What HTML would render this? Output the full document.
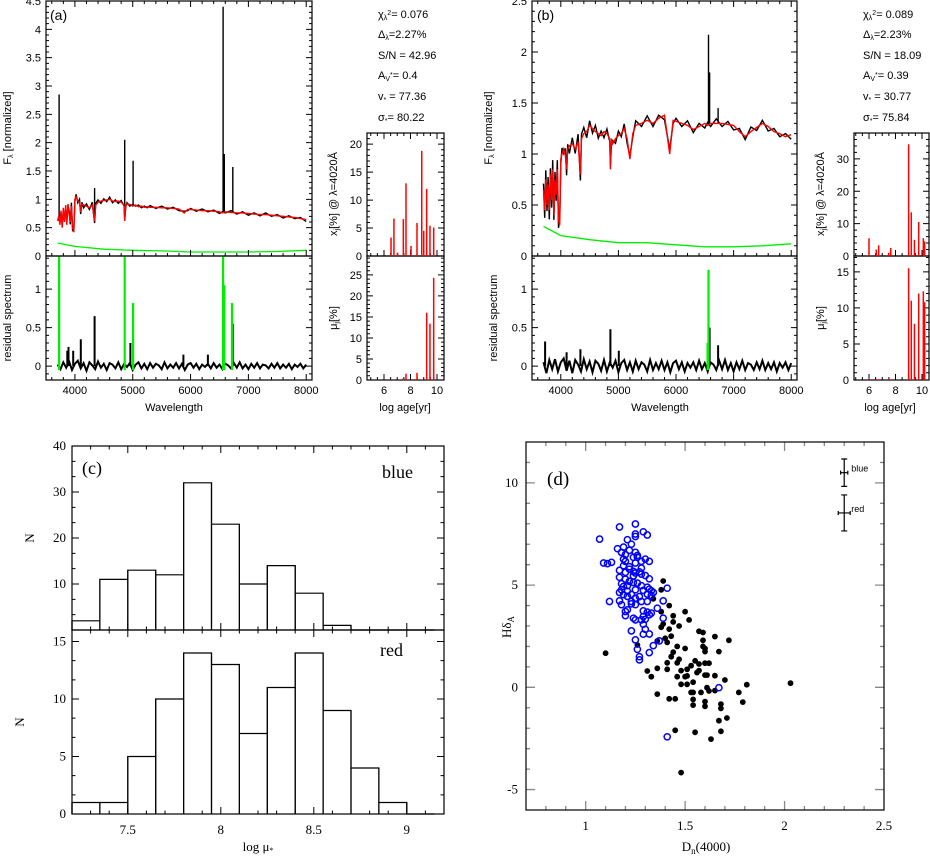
<!DOCTYPE html>
<html><head><meta charset="utf-8"><style>
html,body{margin:0;padding:0;background:#fff;}
svg{display:block;}
.s{font-family:"Liberation Sans",sans-serif;font-size:11px;fill:#000;}
.r{font-family:"Liberation Serif",serif;font-size:13px;fill:#000;}
</style></head><body>
<svg id="fig" width="930" height="857" viewBox="0 0 930 857" xmlns="http://www.w3.org/2000/svg">
<defs>
<clipPath id="cA1"><rect x="46" y="1" width="266" height="255"/></clipPath>
<clipPath id="cA2"><rect x="46" y="256" width="266" height="124"/></clipPath>
<clipPath id="cB1"><rect x="532" y="1" width="265" height="255"/></clipPath>
<clipPath id="cB2"><rect x="532" y="256" width="265" height="124"/></clipPath>
</defs>
<g id="root"></g>
<text class="s" x="50" y="20" style="font-size:14px">(a)</text>
<text class="s" x="537" y="20" style="font-size:14px">(b)</text>
<text class="s" transform="translate(11,128) rotate(-90)" text-anchor="middle">F<tspan style="font-size:7px" dy="2">λ</tspan><tspan dy="-2"> [normalized]</tspan></text>
<text class="s" transform="translate(11,318) rotate(-90)" text-anchor="middle">residual  spectrum</text>
<text class="s" x="174" y="411" text-anchor="middle">Wavelength</text>
<text class="s" transform="translate(337,194) rotate(-90)" text-anchor="middle">x<tspan style="font-size:7px" dy="2">j</tspan><tspan dy="-2">[%]  @  λ=4020Å</tspan></text>
<text class="s" transform="translate(337,318) rotate(-90)" text-anchor="middle">μ<tspan style="font-size:7px" dy="2">j</tspan><tspan dy="-2">[%]</tspan></text>
<text class="s" x="405" y="411" text-anchor="middle">log age[yr]</text>
<text class="s" transform="translate(492,128) rotate(-90)" text-anchor="middle">F<tspan style="font-size:7px" dy="2">λ</tspan><tspan dy="-2"> [normalized]</tspan></text>
<text class="s" transform="translate(497,318) rotate(-90)" text-anchor="middle">residual  spectrum</text>
<text class="s" x="660" y="411" text-anchor="middle">Wavelength</text>
<text class="s" transform="translate(824,194) rotate(-90)" text-anchor="middle">x<tspan style="font-size:7px" dy="2">j</tspan><tspan dy="-2">[%]  @  λ=4020Å</tspan></text>
<text class="s" transform="translate(824,318) rotate(-90)" text-anchor="middle">μ<tspan style="font-size:7px" dy="2">j</tspan><tspan dy="-2">[%]</tspan></text>
<text class="s" x="890" y="411" text-anchor="middle">log age[yr]</text>
<g class="s">
<text x="378" y="18">χ<tspan style="font-size:7px" dy="2">λ</tspan><tspan style="font-size:7px" dy="-5">2</tspan><tspan dy="3">=  0.076</tspan></text>
<text x="378" y="38">Δ<tspan style="font-size:7px" dy="2">λ</tspan><tspan dy="-2">=2.27%</tspan></text>
<text x="378" y="59">S/N = 42.96</text>
<text x="378" y="79">A<tspan style="font-size:7px" dy="2">V</tspan><tspan style="font-size:7px" dy="-4">*</tspan><tspan dy="2">=  0.4</tspan></text>
<text x="378" y="100">v<tspan style="font-size:7px" dy="2">*</tspan><tspan dy="-2">  =  77.36</tspan></text>
<text x="378" y="121">σ<tspan style="font-size:7px" dy="2">*</tspan><tspan dy="-2">=  80.22</tspan></text>
</g>
<g class="s">
<text x="863" y="18">χ<tspan style="font-size:7px" dy="2">λ</tspan><tspan style="font-size:7px" dy="-5">2</tspan><tspan dy="3">=  0.089</tspan></text>
<text x="863" y="38">Δ<tspan style="font-size:7px" dy="2">λ</tspan><tspan dy="-2">=2.23%</tspan></text>
<text x="863" y="59">S/N = 18.09</text>
<text x="863" y="79">A<tspan style="font-size:7px" dy="2">V</tspan><tspan style="font-size:7px" dy="-4">*</tspan><tspan dy="2">=  0.39</tspan></text>
<text x="863" y="100">v<tspan style="font-size:7px" dy="2">*</tspan><tspan dy="-2">  =  30.77</tspan></text>
<text x="863" y="121">σ<tspan style="font-size:7px" dy="2">*</tspan><tspan dy="-2">=  75.84</tspan></text>
</g>
<text class="r" x="82" y="474" style="font-size:18px">(c)</text>
<text class="r" x="413" y="478" style="font-size:18px" text-anchor="end">blue</text>
<text class="r" x="403" y="656" style="font-size:18px" text-anchor="end">red</text>
<text class="r" x="34" y="538" text-anchor="middle" transform="rotate(-90 34 538)">N</text>
<text class="r" x="24" y="722" text-anchor="middle" transform="rotate(-90 24 722)">N</text>
<text class="r" x="258" y="851" text-anchor="middle">log  μ<tspan style="font-size:8px" dy="2">*</tspan></text>
<text class="r" x="547" y="485" style="font-size:19px">(d)</text>
<text class="r" transform="translate(511,627) rotate(-90)" text-anchor="middle">Hδ<tspan style="font-size:9px" dy="3">A</tspan></text>
<text class="r" x="706" y="851" text-anchor="middle">D<tspan style="font-size:9px" dy="3">n</tspan><tspan dy="-3">(4000)</tspan></text>
</svg>
<script>
// ---------- data ----------
const specWl = [3700,3720,3740,3760,3780,3800,3820,3840,3860,3880,3900,3920,3940,3960,3980,4000,4020,4050,4080,4100,4120,4150,4200,4250,4300,4340,4360,4400,4450,4500,4550,4600,4650,4700,4750,4800,4850,4861,4880,4900,4950,5000,5050,5100,5150,5200,5250,5300,5400,5500,5600,5700,5800,5890,5950,6000,6100,6200,6300,6400,6500,6550,6600,6700,6800,6900,7000,7100,7200,7300,7400,7500,7600,7700,7800,7900,8000];
const fluxA = [0.62,0.7,0.55,0.8,0.5,0.85,0.6,0.9,0.55,0.92,0.75,0.6,0.88,0.5,0.42,1.0,1.05,0.97,0.95,0.78,0.92,0.9,0.88,0.85,0.9,0.62,0.9,0.95,0.97,0.98,0.99,1.0,0.97,0.96,0.97,0.95,0.9,0.62,0.9,0.92,0.91,0.88,0.9,0.87,0.88,0.86,0.87,0.86,0.86,0.85,0.85,0.84,0.83,0.76,0.82,0.82,0.81,0.8,0.8,0.79,0.78,0.76,0.78,0.77,0.76,0.76,0.75,0.74,0.73,0.73,0.72,0.71,0.7,0.69,0.68,0.66,0.64];
const fluxB = [0.65,0.45,0.75,0.5,0.7,0.45,0.8,0.55,0.85,0.4,0.75,0.6,0.85,0.35,0.3,0.95,1.0,1.05,0.98,0.85,1.05,1.08,1.1,1.05,1.12,0.8,1.15,1.2,1.22,1.28,1.25,1.22,1.2,1.18,1.22,1.2,1.15,0.85,1.15,1.1,1.15,1.18,1.2,1.25,1.15,0.95,1.2,1.28,1.3,1.33,1.3,1.35,1.38,1.0,1.33,1.32,1.3,1.28,1.24,1.27,1.3,1.28,1.3,1.3,1.3,1.29,1.28,1.22,1.17,1.22,1.26,1.3,1.27,1.22,1.2,1.17,1.19];
const jit = [0.04,-0.05,0.06,-0.04,0.05,-0.06,0.04,-0.05,0.06,-0.03,0.05,-0.04,0.06,-0.05,0.04,-0.03,0.04,-0.03,0.05,-0.04,0.03,-0.05,0.04,-0.03,0.05,-0.04,0.03,0.04,-0.04,0.03,-0.03,0.04,-0.03,0.03,-0.04,0.03,-0.02,0.03,-0.03,0.02,-0.03,0.03,-0.02,0.03,-0.03,0.02,-0.02,0.03,-0.02,0.03,-0.02,0.02,-0.03,0.03,-0.02,0.02,-0.02,0.03,-0.02,0.02,-0.03,0.02,-0.02,0.03,-0.02,0.02,-0.03,0.02,-0.02,0.03,-0.02,0.02,-0.03,0.02,-0.02,0.02,-0.03];
const lineWlA = [3727,4340,4861,5007,6563,6583,6731];
const linePkA = [2.85,1.2,2.05,1.68,4.4,1.8,1.57];
const lineWlB = [6563,6583,6731];
const linePkB = [2.17,1.8,1.45];
const errWl = [3700,4000,4500,5000,5500,6000,6500,7000,7500,8000];
const errA = [0.23,0.17,0.12,0.1,0.09,0.07,0.07,0.07,0.08,0.1];
const errB = [0.29,0.2,0.16,0.13,0.13,0.11,0.09,0.09,0.1,0.12];
const resA = [0.02,-0.04,0.05,-0.02,0.06,-0.05,0.03,0.07,-0.03,0.04,-0.06,0.05,0.01,-0.04,0.06,-0.02,0.03,-0.05,0.04,0.02,-0.03,0.05,-0.04,0.03,-0.01,0.04,-0.05,0.02,0.05,-0.03,0.03,-0.04,0.04,-0.02,0.03,0.01,-0.04,0.05,-0.03,0.02,-0.02,0.04,-0.03,0.03,-0.05,0.02,0.04,-0.02,0.03,-0.04,0.02,-0.01,0.03,-0.03,0.04,-0.02,0.02,-0.04,0.03,0.01,-0.03,0.04,-0.02,0.05,-0.03,0.02,-0.04,0.03,-0.02,0.04,-0.03,0.02,0.01,-0.03,0.03,-0.02,0.04,-0.03,0.02,-0.02,0.03,-0.04,0.02,-0.01,0.03,-0.03,0.02];
const resB = [0.05,-0.09,0.08,-0.04,0.09,-0.07,0.05,0.1,-0.06,0.07,-0.09,0.08,0.02,-0.07,0.09,-0.04,0.06,-0.08,0.07,0.03,-0.06,0.08,-0.07,0.05,-0.02,0.07,-0.08,0.04,0.08,-0.05,0.05,-0.07,0.07,-0.04,0.05,0.02,-0.07,0.08,-0.05,0.04,-0.04,0.07,-0.05,0.05,-0.08,0.04,0.07,-0.04,0.05,-0.07,0.04,-0.02,0.05,-0.05,0.07,-0.04,0.04,-0.07,0.05,0.02,-0.05,0.07,-0.04,0.08,-0.05,0.04,-0.07,0.05,-0.04,0.07,-0.05,0.04,0.02,-0.05,0.05,-0.04,0.07,-0.05,0.04,-0.04,0.05,-0.07,0.04,-0.02,0.05,-0.05,0.04];
const resLineWlA = [3869,3889,3970,4101,4340,4959,5876,6300,6731];
const resLinePkA = [0.2,0.25,0.2,0.35,0.65,0.3,0.15,0.15,0.55];
const resGreenWlA = [3727,4861,5007,6563,6583,6717];
const resGreenPkA = [1.45,1.45,0.82,1.45,1.05,0.82];
const resLineWlB = [3727,4101,4340,4861,5007,6583,6731];
const resLinePkB = [0.32,0.18,0.22,0.48,0.2,0.5,0.27];
const resGreenWlB = [6548,6563];
const resGreenPkB = [0.3,1.25];
const ageA = [6.53,6.75,7.03,7.46,7.66,8.04,8.49,8.85,9.0,9.22,9.47,9.75];
const xjA = [3.3,6.7,0.6,6.6,13,1.8,5.9,18.8,4.5,12,5.4,5.1];
const muA = [0.05,0.05,0.05,0.4,1.5,0.05,1.7,0.05,0.05,16,13.4,24.3];
const ageB = [6.0,6.55,6.73,7.48,7.64,8.99,9.19,9.43,9.75,10.1,10.2];
const xjB = [5.5,2,3.3,1,2.5,34.5,13.5,5,10.5,5.5,4.5];
const muB = [0.1,0.1,0.1,0.1,0.1,15.5,11,7.8,12,12.3,10.8];
const binEdges = [7.2,7.35,7.5,7.65,7.8,7.95,8.1,8.25,8.4,8.55,8.7,8.85,9.0,9.15];
const blueCounts = [2,11,13,12,32,23,10,14,8,1,0,0,0];
const redCounts = [1,1,5,10,14,13,7,11,14,9,4,1,0];
const blackD = [1.10,1.39,1.38,1.34,1.42,1.38,1.44,1.50,1.52,1.44,1.39,1.38,1.47,1.42,1.43,1.40,1.57,1.59,1.65,1.59,1.72,1.36,1.41,1.46,1.50,1.59,1.60,1.60,1.67,1.44,1.43,1.47,1.46,1.55,1.57,1.60,1.62,1.41,1.53,1.51,1.41,1.36,1.48,1.57,1.56,1.31,1.33,1.46,1.51,1.50,1.60,1.65,1.61,1.70,1.54,1.48,1.51,1.81,2.03,1.61,1.62,1.65,1.58,1.53,1.54,1.77,1.36,1.42,1.45,1.54,1.60,1.79,1.68,1.54,1.60,1.68,1.71,1.67,1.45,1.55,1.68,1.63,1.48,1.26];
const blackH = [1.67,5.2,4.77,4.33,4.0,3.7,3.5,3.7,3.3,3.2,3.1,2.94,3.0,2.85,2.5,2.4,2.74,2.68,2.48,2.3,2.3,2.27,2.2,2.0,1.9,2.0,1.9,1.75,1.75,1.72,1.5,1.37,1.2,1.3,1.14,1.18,1.18,1.2,1.06,0.88,0.88,0.93,0.82,0.82,0.72,0.8,0.52,0.52,0.56,0.52,0.6,0.57,0.6,0.36,0.25,0.15,0.15,0.13,0.2,-0.02,-0.18,-0.16,-0.25,-0.25,-0.25,-0.25,-0.33,-0.56,-0.56,-0.59,-0.7,-0.72,-0.82,-0.87,-0.93,-1.03,-1.5,-1.63,-2.1,-2.2,-2.15,-2.53,-4.17,2.07];
const blueD = [1.07,1.17,1.25,1.29,1.31,1.25,1.25,1.21,1.23,1.19,1.16,1.22,1.25,1.18,1.20,1.24,1.26,1.30,1.32,1.28,1.19,1.20,1.09,1.11,1.13,1.25,1.17,1.28,1.22,1.24,1.20,1.25,1.28,1.17,1.30,1.32,1.20,1.22,1.18,1.26,1.24,1.21,1.19,1.28,1.31,1.41,1.32,1.18,1.21,1.25,1.29,1.33,1.17,1.34,1.19,1.23,1.31,1.33,1.27,1.25,1.12,1.17,1.28,1.31,1.39,1.23,1.18,1.25,1.36,1.21,1.20,1.29,1.31,1.33,1.32,1.20,1.29,1.39,1.24,1.25,1.28,1.30,1.29,1.30,1.23,1.32,1.29,1.37,1.25,1.34,1.26,1.27,1.27,1.32,1.67,1.41,1.22,1.27,1.24,1.21,1.26,1.19,1.23];
const blueH = [7.25,7.84,7.99,7.61,7.45,7.5,7.38,7.22,7.0,6.86,6.78,6.7,6.6,6.6,6.49,6.36,6.36,6.27,6.16,6.16,6.27,6.16,6.08,6.05,6.11,6.08,5.72,5.83,5.78,5.67,5.62,5.59,5.54,5.38,5.47,5.31,5.29,5.18,5.07,5.1,5.13,4.97,4.93,4.97,4.9,4.85,4.8,4.77,4.7,4.77,4.74,4.72,4.64,4.64,4.53,4.54,4.56,4.49,4.44,4.36,4.2,4.23,4.2,4.2,4.23,4.08,4.04,4.04,3.87,3.79,3.71,3.74,3.68,3.63,3.55,3.51,3.46,3.38,3.38,3.3,3.3,3.33,3.09,2.84,2.76,2.61,2.6,2.27,2.32,2.04,1.86,1.5,1.34,1.7,-0.02,-2.42,5.9,5.65,5.45,4.45,6.45,5.95,4.2];
const errBarX = [2.30,2.30];
const errBarY = [10.5,8.53];
const errBarDx = [0.018,0.03];
const errBarDy = [0.67,0.88];
const errBarLabels = ['blue','red'];

// ---------- helpers ----------
const NS='http://www.w3.org/2000/svg';
const root=document.getElementById('root');
function mk(tag,at,parent){const e=document.createElementNS(NS,tag);for(const k in at)e.setAttribute(k,at[k]);(parent||root).appendChild(e);return e;}
function lin(d0,d1,p0,p1){return v=>p0+(v-d0)/(d1-d0)*(p1-p0);}
function fmt(v){return String(+v.toFixed(3));}
function ticks(x0,y0,x1,y1,xs,ys,xd,yd,xmaj,xmin,ymaj,ymin,o){
  const g=mk('g',{});
  
  
  let d='';
  const eps=1e-6;
  if(xmin){for(let v=Math.ceil(xd[0]/xmin-eps)*xmin;v<=xd[1]+eps;v+=xmin){const X=xs(v);if(X<x0+0.5||X>x1-0.5)continue;const maj=Math.abs(v/xmaj-Math.round(v/xmaj))<1e-4;const L=maj?o.maj:o.min;
    if(o.bot!==false)d+=`M${X},${y1}v${-L}`; if(o.top!==false)d+=`M${X},${y0}v${L}`;}}
  if(ymin){for(let v=Math.ceil(yd[0]/ymin-eps)*ymin;v<=yd[1]+eps;v+=ymin){const Y=ys(v);if(Y<y0+0.5||Y>y1-0.5)continue;const maj=Math.abs(v/ymaj-Math.round(v/ymaj))<1e-4;const L=maj?o.maj:o.min;
    d+=`M${x0},${Y}h${L}M${x1},${Y}h${-L}`;}}
  mk('path',{d:d,stroke:o.tc||'#000','stroke-width':o.tw||1,fill:'none'},g);
  mk('rect',{x:x0,y:y0,width:x1-x0,height:y1-y0,fill:'none',stroke:'#000','stroke-width':1.2},g);
  if(o.xl){for(const v of o.xl){const t=mk('text',{x:xs(v),y:y1+o.xo,'text-anchor':'middle',class:o.cls},g);t.textContent=fmt(v);}}
  if(o.yl){for(const v of o.yl){const t=mk('text',{x:x0-o.yo,y:ys(v)+4,'text-anchor':'end',class:o.cls},g);t.textContent=fmt(v);}}
  return g;
}
function interp(xa,ya,x){for(let i=1;i<xa.length;i++){if(x<=xa[i]){const f=(x-xa[i-1])/(xa[i]-xa[i-1]);return ya[i-1]+f*(ya[i]-ya[i-1]);}}return ya[ya.length-1];}

function spectrumPanel(P){
  const xs=lin(3500,8100,P.x0,P.x1);
  const ys=lin(0,P.ymax,256,1);
  const yr=lin(-0.18,1.43,380,256);
  const g1=mk('g',{'clip-path':`url(#${P.c1})`});
  
  
  let d='';
  specWl.forEach((w,i)=>{d+=(i?'L':'M')+xs(w).toFixed(1)+','+ys(P.flux[i]+(jit[i]||0)*P.js).toFixed(1);});
  P.lw.forEach((w,i)=>{const b=interp(specWl,P.flux,w);d+=`M${xs(w).toFixed(1)},${ys(b).toFixed(1)}L${xs(w).toFixed(1)},${ys(P.lp[i]).toFixed(1)}`;});
  const obs=mk('path',{d:d,stroke:'#000','stroke-width':1.4,fill:'none'},g1);
  
  
  let dm='';specWl.forEach((w,i)=>{dm+=(i?'L':'M')+xs(w).toFixed(1)+','+ys(P.flux[i]).toFixed(1);});
  const mod=mk('path',{d:dm,stroke:'#ff0000','stroke-width':1.4,fill:'none'},g1);
  
  
  let de='';errWl.forEach((w,i)=>{de+=(i?'L':'M')+xs(w).toFixed(1)+','+ys(P.err[i]).toFixed(1);});
  const er=mk('path',{d:de,stroke:'#00ee00','stroke-width':1.3,fill:'none'},g1);
  
  
  const g2=mk('g',{'clip-path':`url(#${P.c2})`});
  
  
  let dr='';const n=P.res.length;
  P.res.forEach((r,i)=>{const w=3700+i*(4300/(n-1));dr+=(i?'L':'M')+xs(w).toFixed(1)+','+yr(r).toFixed(1);});
  P.rlw.forEach((w,i)=>{dr+=`M${xs(w).toFixed(1)},${yr(0)}L${xs(w).toFixed(1)},${yr(P.rlp[i]).toFixed(1)}`;});
  const rp=mk('path',{d:dr,stroke:'#000','stroke-width':2,fill:'none'},g2);
  
  
  let dg='';P.rgw.forEach((w,i)=>{dg+=`M${xs(w).toFixed(1)},${yr(-0.05)}L${xs(w).toFixed(1)},${yr(P.rgp[i]).toFixed(1)}`;});
  const gp=mk('path',{d:dg,stroke:'#00ee00','stroke-width':2.2,fill:'none'},g2);
  
  
  const o={maj:6,min:3,cls:'s',xo:0,yo:5};
  ticks(P.x0,1,P.x1,256,xs,ys,[3500,8100],[0,P.ymax],1000,200,0.5,0.1,Object.assign({},o,{name:P.id+'-flux-axes',bot:true,yl:P.ylab}));
  ticks(P.x0,256,P.x1,380,xs,yr,[3500,8100],[-0.18,1.43],1000,200,0.5,0.1,Object.assign({},o,{name:P.id+'-residual-axes',top:false,yl:[0,0.5,1],xl:[4000,5000,6000,7000,8000],xo:14}));
  const ax=lin(6,10,P.sx6,P.sx6+53);
  const yx=lin(0,P.xjmax,256,133), ym=lin(0,P.mumax,380,256);
  ticks(P.sx0,133,P.sx1,256,ax,yx,[4.5,10.6],[0,P.xjmax],2,0.5,P.xjmaj,P.xjmaj/5,Object.assign({},o,{name:P.id+'-xj-axes',yl:P.xjlab}));
  ticks(P.sx0,256,P.sx1,380,ax,ym,[4.5,10.6],[0,P.mumax],2,0.5,P.mumaj,P.mumaj/5,Object.assign({},o,{name:P.id+'-mu-axes',top:false,yl:P.mulab,xl:[6,8,10],xo:14}));
  P.age.forEach((a,i)=>{
    const b=mk('line',{x1:ax(a),x2:ax(a),y1:yx(0),y2:yx(P.xj[i]),stroke:'#ff0000','stroke-width':1.5});
    
    
    const m=mk('line',{x1:ax(a),x2:ax(a),y1:ym(0),y2:ym(P.mu[i]),stroke:'#ff0000','stroke-width':1.5});
    
    
  });
}
spectrumPanel({id:'panel-a',x0:46,x1:312,ymax:4.5,flux:fluxA,js:1,lw:lineWlA,lp:linePkA,err:errA,res:resA,rlw:resLineWlA,rlp:resLinePkA,rgw:resGreenWlA,rgp:resGreenPkA,c1:'cA1',c2:'cA2',
  ylab:[0,0.5,1,1.5,2,2.5,3,3.5,4,4.5],sx0:367,sx1:444,sx6:384,xjmax:22,xjmaj:5,xjlab:[0,5,10,15,20],mumax:29.5,mumaj:5,mulab:[0,5,10,15,20,25],age:ageA,xj:xjA,mu:muA});
spectrumPanel({id:'panel-b',x0:532,x1:797,ymax:2.5,flux:fluxB,js:1.5,lw:lineWlB,lp:linePkB,err:errB,res:resB,rlw:resLineWlB,rlp:resLinePkB,rgw:resGreenWlB,rgp:resGreenPkB,c1:'cB1',c2:'cB2',
  ylab:[0,0.5,1,1.5,2,2.5],sx0:854,sx1:929,sx6:869,xjmax:38,xjmaj:10,xjlab:[0,10,20,30],mumax:17.2,mumaj:5,mulab:[0,5,10,15],age:ageB,xj:xjB,mu:muB});

// ---------- panel c ----------
(function(){
  const xs=lin(7.2,9.2,72,444);
  const yb=lin(0,40,630,446), yr=lin(0,16,814,630);
  function hist(counts,ys,name){
    let d='M'+xs(binEdges[0])+','+ys(0);
    counts.forEach((c,i)=>{d+=`L${xs(binEdges[i]).toFixed(1)},${ys(c).toFixed(1)}L${xs(binEdges[i+1]).toFixed(1)},${ys(c).toFixed(1)}`;});
    const p=mk('path',{d:d,stroke:'#000','stroke-width':1.2,fill:'none'});
    
    
    counts.forEach((c,i)=>{if(c<=0)return;
      const r=mk('line',{x1:xs(binEdges[i]),x2:xs(binEdges[i]),y1:ys(0),y2:ys(c),stroke:'#000','stroke-width':1.2});
      
      
      const r2=mk('line',{x1:xs(binEdges[i+1]),x2:xs(binEdges[i+1]),y1:ys(0),y2:ys(c),stroke:'#000','stroke-width':1.2});
      
      
    });
  }
  hist(blueCounts,yb,'blue-histogram');
  hist(redCounts,yr,'red-histogram');
  const o={maj:7,min:3.5,cls:'r',xo:0,yo:6};
  ticks(72,446,444,630,xs,yb,[7.2,9.2],[0,40],0.5,0.1,10,10/3,Object.assign({},o,{name:'blue-hist-axes',yl:[10,20,30,40]}));
  ticks(72,630,444,814,xs,yr,[7.2,9.2],[0,16],0.5,0.1,5,5/3,Object.assign({},o,{name:'red-hist-axes',yl:[0,5,10,15],xl:[7.5,8,8.5,9],xo:20}));
})();

// ---------- panel d ----------
(function(){
  const xs=lin(0.7,2.5,526,884), ys=lin(-6,12,810,442);
  ticks(526,442,884,810,xs,ys,[0.7,2.5],[-6,12],0.5,0.1,5,1,{name:'scatter-axes',maj:9,min:4,cls:'r',tc:'#888',tw:1.3,xl:[1,1.5,2,2.5],xo:20,yl:[-5,0,5,10],yo:8});
  blackD.forEach((x,i)=>{const c=mk('circle',{cx:xs(x).toFixed(1),cy:ys(blackH[i]).toFixed(1),r:2.9,fill:'#000'});
    
    });
  blueD.forEach((x,i)=>{const c=mk('circle',{cx:xs(x).toFixed(1),cy:ys(blueH[i]).toFixed(1),r:3.1,fill:'none',stroke:'#0000ff','stroke-width':1.5});
    
    });
  errBarX.forEach((x,i)=>{
    const X=xs(x),Y=ys(errBarY[i]),x1=xs(x-errBarDx[i]),x2=xs(x+errBarDx[i]),y1=ys(errBarY[i]+errBarDy[i]),y2=ys(errBarY[i]-errBarDy[i]);
    const p=mk('path',{d:`M${X},${y1}V${y2}M${X-3},${y1}h6M${X-3},${y2}h6M${x1},${Y}H${x2}M${x1},${Y-2}v4M${x2},${Y-2}v4`,stroke:'#000','stroke-width':1.2,fill:'none'});
    
    
    const t=mk('text',{x:X+7,y:Y-1,class:'s',style:'font-size:9px'});
    t.textContent=errBarLabels[i];
    
    
  });
})();
</script>
</body></html>
